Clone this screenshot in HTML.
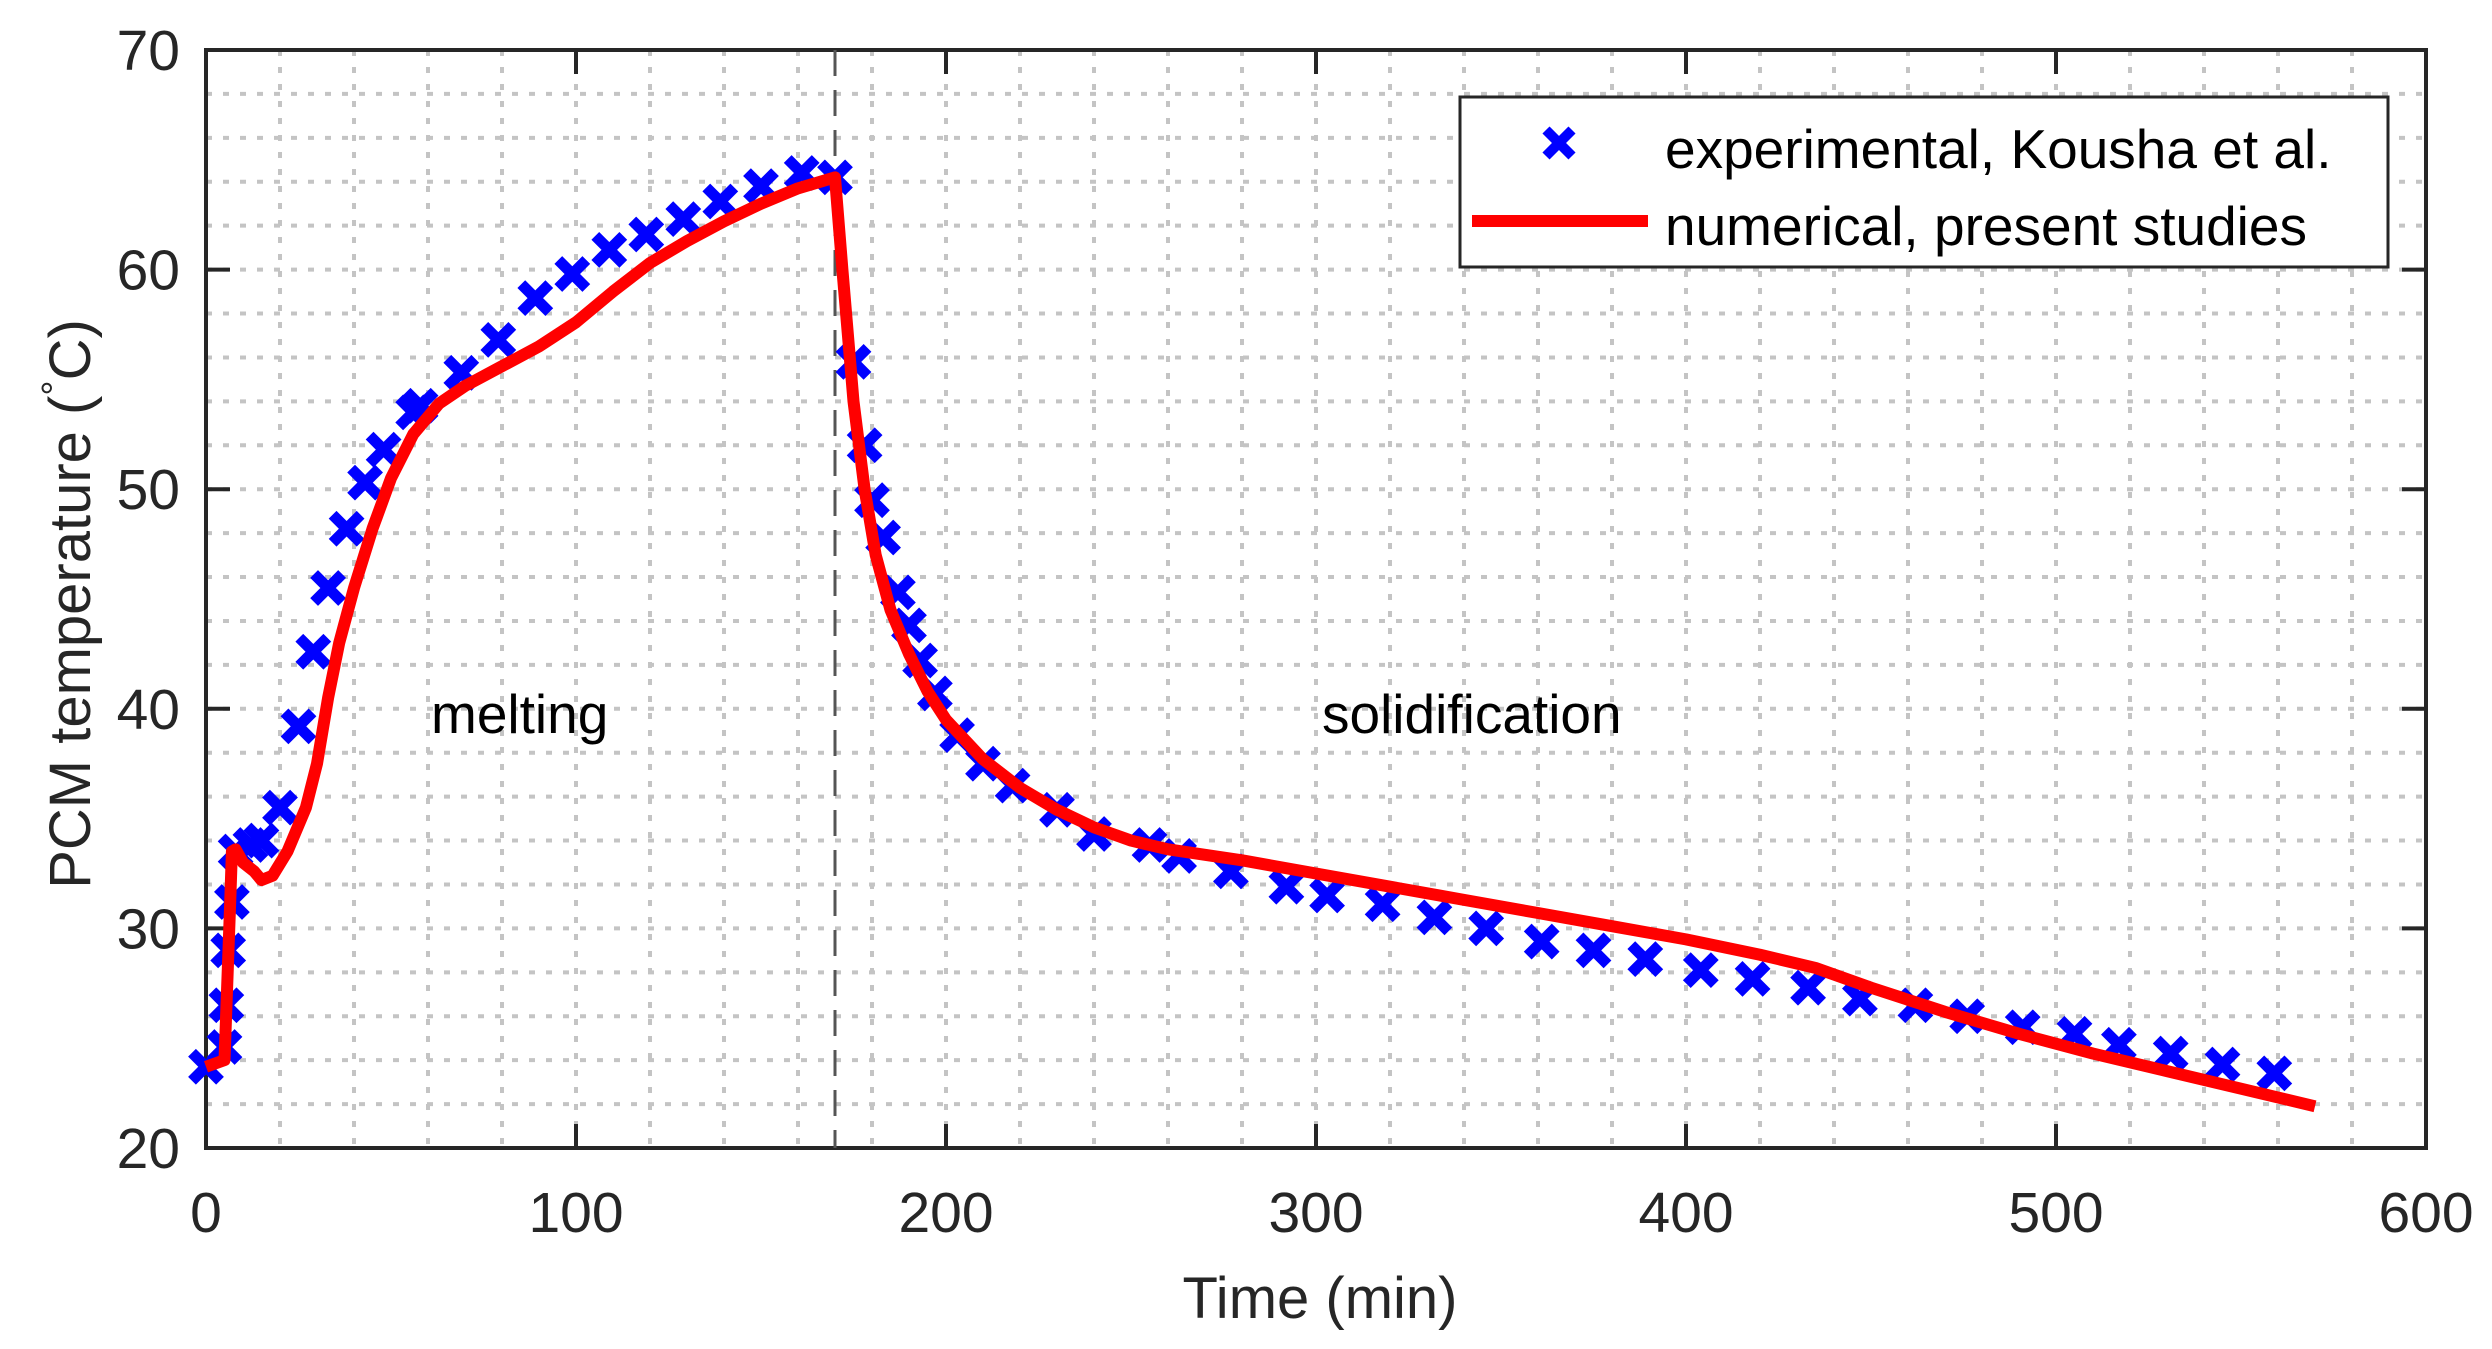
<!DOCTYPE html>
<html><head><meta charset="utf-8"><style>
html,body{margin:0;padding:0;background:#fff;}
svg{display:block;font-family:"Liberation Sans",Arial,sans-serif;}
</style></head><body>
<svg id="chart" width="2492" height="1349" viewBox="0 0 2492 1349" xmlns="http://www.w3.org/2000/svg">
<rect x="0" y="0" width="2492" height="1349" fill="#fff"/>
<g id="grid"></g>
<g id="axes"></g>
<g id="series"></g>
<text x="431" y="733" font-size="55" fill="#000">melting</text>
<text x="1322" y="733" font-size="55" fill="#000">solidification</text>
<text x="1320" y="1318" font-size="58" fill="#262626" text-anchor="middle">Time (min)</text>
<text transform="translate(90,604) rotate(-90)" font-size="58" fill="#262626" text-anchor="middle">PCM temperature (<tspan font-size="38" dy="-22">°</tspan><tspan dy="22">C)</tspan></text>
<g>
<rect x="1460" y="97" width="928" height="170" fill="#fff" stroke="#262626" stroke-width="3"/>
<g>
<path d="M1546 130 L1572 156 M1572 130 L1546 156" stroke="#0000ff" stroke-width="10"/>
<text x="1665" y="168" font-size="55" fill="#000">experimental, Kousha et al.</text>
</g>
<g>
<line x1="1472" y1="221" x2="1648" y2="221" stroke="#ff0000" stroke-width="12"/>
<text x="1665" y="245" font-size="55" fill="#000">numerical, present studies</text>
</g>
</g>
</svg>
<script>
const xTicks=[0,100,200,300,400,500,600];
const yTicks=[20,30,40,50,60,70];
const expTime=[0,5,5.5,6,7,8,12,15,20,25,29,33,38,43,48,56,58,69,79,89,99,109,119,129,139,150,161,170,175,178,180,183,187,190,193,197,203,210,218,230,240,255,263,277,292,303,318,332,346,361,375,389,404,418,433,447,462,476,491,505,517,531,545,559];
const expTemp=[23.7,24.6,26.5,29,31.2,33.5,33.8,34,35.5,39.2,42.6,45.5,48.2,50.3,51.8,53.5,53.8,55.3,56.8,58.7,59.8,60.9,61.6,62.3,63.1,63.8,64.4,64.2,55.8,52,49.5,47.8,45.3,43.8,42.2,40.7,38.8,37.5,36.5,35.4,34.3,33.8,33.3,32.6,31.9,31.5,31.1,30.5,30,29.4,29,28.6,28.1,27.7,27.3,26.8,26.5,26,25.5,25.2,24.7,24.3,23.8,23.4];
const numTime=[0,5,6.5,7,8,10,13,15,18,22,27,30,33,36,40,45,50,56,63,70,80,90,100,110,120,130,140,150,160,170,172,175,178,181,185,190,195,200,210,220,230,240,250,260,280,300,320,340,360,380,400,420,435,450,470,490,510,530,550,570];
const numTemp=[23.7,24,31,33.5,33.6,33,32.6,32.2,32.4,33.5,35.5,37.5,40.5,43,45.5,48.2,50.5,52.5,53.9,54.7,55.6,56.5,57.6,59,60.3,61.3,62.2,63,63.7,64.2,60,54,50,47,44.5,42.5,40.8,39.5,37.7,36.4,35.4,34.6,34,33.6,33.1,32.5,31.9,31.3,30.7,30.1,29.5,28.8,28.2,27.3,26.2,25.2,24.3,23.5,22.7,21.9];
const phaseBoundary=[170];

const L=206,R=2426,T=50,B=1148;
const xMin=0,xMax=600,yMin=20,yMax=70;
const X=v=>L+(v-xMin)/(xMax-xMin)*(R-L);
const Y=v=>B-(v-yMin)/(yMax-yMin)*(B-T);
const NS="http://www.w3.org/2000/svg";
function mk(tag,attrs,parent){const e=document.createElementNS(NS,tag);for(const k in attrs)e.setAttribute(k,attrs[k]);parent.appendChild(e);return e;}
const grid=document.getElementById('grid'),axes=document.getElementById('axes'),series=document.getElementById('series');
for(let v=xMin+20;v<xMax;v+=20){const g=mk('line',{x1:X(v),x2:X(v),y1:T,y2:B,stroke:'#c4c4c4','stroke-width':4,'stroke-dasharray':'6 11'},grid);

}
for(let v=yMin+2;v<yMax;v+=2){const g=mk('line',{x1:L,x2:R,y1:Y(v),y2:Y(v),stroke:'#c4c4c4','stroke-width':4,'stroke-dasharray':'6 11'},grid);

}
const box=mk('rect',{x:L,y:T,width:R-L,height:B-T,fill:'none',stroke:'#262626','stroke-width':4},axes);


xTicks.forEach(v=>{
  mk('line',{x1:X(v),x2:X(v),y1:B,y2:B-24,stroke:'#262626','stroke-width':4},axes);
  mk('line',{x1:X(v),x2:X(v),y1:T,y2:T+24,stroke:'#262626','stroke-width':4},axes);
  const t=mk('text',{x:X(v),y:1232,'font-size':57,fill:'#262626','text-anchor':'middle'},axes);t.textContent=v;
  
  
});
yTicks.forEach(v=>{
  mk('line',{x1:L,x2:L+24,y1:Y(v),y2:Y(v),stroke:'#262626','stroke-width':4},axes);
  mk('line',{x1:R,x2:R-24,y1:Y(v),y2:Y(v),stroke:'#262626','stroke-width':4},axes);
  const t=mk('text',{x:180,y:Y(v)+20,'font-size':57,fill:'#262626','text-anchor':'end'},axes);t.textContent=v;
  
  
});
phaseBoundary.forEach(v=>{const d=mk('line',{x1:X(v),x2:X(v),y1:T,y2:B,stroke:'#555','stroke-width':3,'stroke-dasharray':'26 14'},series);

});
expTime.forEach((t,i)=>{const cx=X(t),cy=Y(expTemp[i]),s=14;
const m=mk('path',{d:`M${cx-s} ${cy-s} L${cx+s} ${cy+s} M${cx+s} ${cy-s} L${cx-s} ${cy+s}`,stroke:'#0000ff','stroke-width':11},series);

});
const pts=numTime.map((t,i)=>X(t)+','+Y(numTemp[i])).join(' ');
const pl=mk('polyline',{points:pts,fill:'none',stroke:'#ff0000','stroke-width':12,'stroke-linejoin':'round'},series);


</script>
</body></html>
